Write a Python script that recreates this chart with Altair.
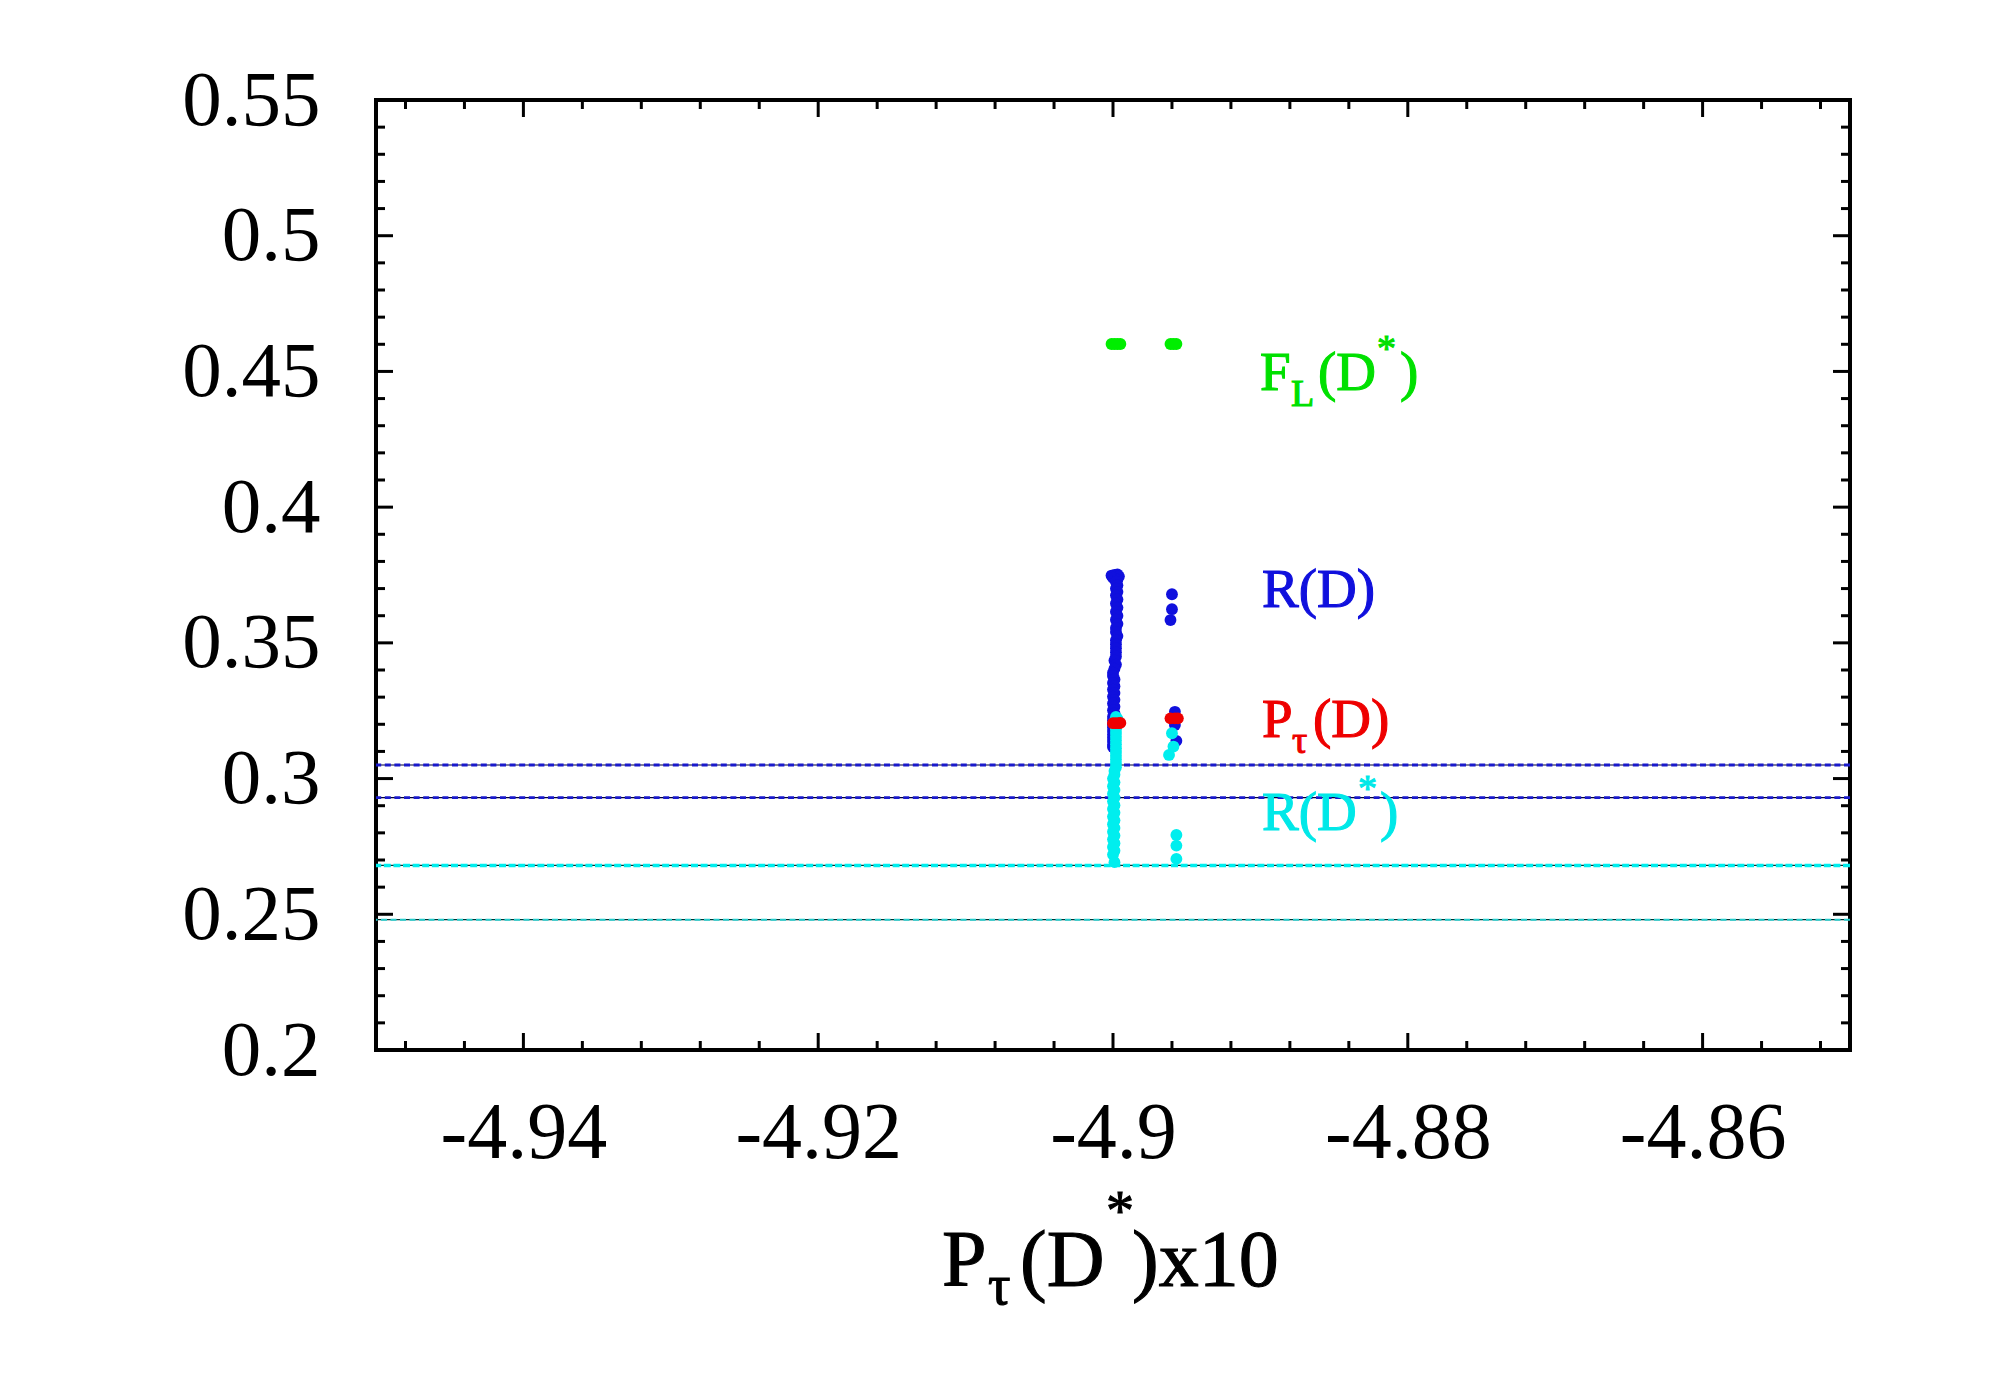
import altair as alt
import pandas as pd

# ---------------- values ----------------
x_major = [-4.94, -4.92, -4.90, -4.88, -4.86]
x_minor = [-4.948, -4.944, -4.936, -4.932, -4.928, -4.924, -4.916, -4.912,
           -4.908, -4.904, -4.896, -4.892, -4.888, -4.884, -4.876, -4.872,
           -4.868, -4.864, -4.856, -4.852]
y_major = [0.2, 0.25, 0.3, 0.35, 0.4, 0.45, 0.5, 0.55]
y_minor = [0.21, 0.22, 0.23, 0.24, 0.26, 0.27, 0.28, 0.29, 0.31, 0.32, 0.33,
           0.34, 0.36, 0.37, 0.38, 0.39, 0.41, 0.42, 0.43, 0.44, 0.46, 0.47,
           0.48, 0.49, 0.51, 0.52, 0.53, 0.54]

# horizontal reference lines
hl_blue = [0.305, 0.293]
hl_cyan = [0.268]
hl_thin = [0.248]

# R(D) (blue)
rd_x = [-4.8997, -4.8999, -4.9001, -4.8996, -4.9000, -4.8997, -4.8998, -4.8997,
        -4.8998, -4.8997, -4.8998, -4.8997, -4.8998, -4.8997, -4.8998, -4.8997,
        -4.8998, -4.8997, -4.8998, -4.8998, -4.8997, -4.8998, -4.8998, -4.8998,
        -4.8998, -4.8998, -4.8999, -4.8998, -4.8999, -4.9000, -4.9000, -4.8999,
        -4.9000, -4.8999, -4.9000, -4.8999, -4.9000, -4.8999, -4.9000, -4.8999,
        -4.9000, -4.8999, -4.9000, -4.9000, -4.9000, -4.9000, -4.9000, -4.9000,
        -4.9000, -4.9000, -4.9000, -4.9000,
        -4.8960, -4.8960, -4.8961, -4.8958, -4.8958, -4.8957]
rd_y = [0.3752, 0.3750, 0.3748, 0.3745, 0.3740, 0.3733, 0.3725, 0.3712,
        0.3700, 0.3688, 0.3675, 0.3660, 0.3645, 0.3630, 0.3615, 0.3600,
        0.3585, 0.3570, 0.3555, 0.3540, 0.3525, 0.3510, 0.3495, 0.3480,
        0.3465, 0.3450, 0.3435, 0.3420, 0.3405, 0.3390, 0.3378, 0.3365,
        0.3352, 0.3340, 0.3328, 0.3315, 0.3302, 0.3290, 0.3277, 0.3265,
        0.3252, 0.3240, 0.3228, 0.3215, 0.3200, 0.3188, 0.3175, 0.3162,
        0.3150, 0.3138, 0.3125, 0.3116,
        0.3679, 0.3624, 0.3584, 0.3246, 0.3197, 0.3139]

# R(D*) (cyan)
rds_x = [-4.8998, -4.8997, -4.8999, -4.8998, -4.8998, -4.8998, -4.8998, -4.8998,
         -4.8998, -4.8998, -4.8998, -4.8998, -4.8998, -4.8998, -4.8998, -4.8999,
         -4.8999, -4.9000, -4.8999, -4.9000, -4.8999, -4.9000, -4.8999, -4.9000,
         -4.8999, -4.9000, -4.8999, -4.9000, -4.8999, -4.9000, -4.8999, -4.9000,
         -4.8999, -4.9000, -4.8999, -4.9000, -4.8999, -4.9000, -4.8999,
         -4.8960, -4.8959, -4.8962, -4.8957, -4.8957, -4.8957]
rds_y = [0.3227, 0.3220, 0.3210, 0.3196, 0.3182, 0.3168, 0.3154, 0.3140,
         0.3126, 0.3112, 0.3098, 0.3084, 0.3070, 0.3056, 0.3042, 0.3028,
         0.3014, 0.3000, 0.2986, 0.2972, 0.2958, 0.2944, 0.2930, 0.2916,
         0.2902, 0.2888, 0.2874, 0.2860, 0.2846, 0.2832, 0.2818, 0.2804,
         0.2790, 0.2776, 0.2762, 0.2748, 0.2734, 0.2720, 0.2692,
         0.3167, 0.3118, 0.3087, 0.2792, 0.2753, 0.2704]

# P_tau(D) (red)
ptd_x = [-4.9000, -4.8998, -4.8996, -4.8995, -4.8961, -4.8958, -4.8956]
ptd_y = [0.3204, 0.3204, 0.3204, 0.3205, 0.3222, 0.3222, 0.3222]

# F_L(D*) (green)
fl_x = [-4.9001, -4.8999, -4.8997, -4.8995, -4.8961, -4.8959, -4.8957]
fl_y = [0.4601, 0.4601, 0.4601, 0.4601, 0.4601, 0.4601, 0.4601]

# text pieces: (text, x px, baseline y px, font size, colour)
label_pieces = [
    ("F", 884, 290, 55, "#00e000"), ("L", 915, 306, 38, "#00e000"),
    ("(D", 942, 290, 55, "#00e000"), ("*", 1001, 261, 38, "#00e000"),
    (")", 1024, 290, 55, "#00e000"),
    ("R(D)", 886, 507, 55, "#1010dd"),
    ("P", 886, 637, 55, "#ee0000"), ("\u03c4", 916, 653, 38, "#ee0000"),
    ("(D)", 937, 637, 55, "#ee0000"),
    ("R(D", 886, 730, 55, "#00e8e8"), ("*", 982, 701, 38, "#00e8e8"),
    (")", 1004, 730, 55, "#00e8e8"),
    # x-axis title  P_tau(D^*)x10
    ("P", 566, 1186, 80, "black"), ("\u03c4", 612, 1204, 56, "black"),
    ("(D", 644, 1186, 80, "black"), ("*", 730, 1130, 56, "black"),
    (")x10", 756, 1186, 80, "black"),
]

# ---------------- chart ----------------
W, H = 1474, 950
FONT = "Liberation Serif"
MAJ, MIN = 17, 9

xs = alt.Scale(domain=[-4.95, -4.85], nice=False, zero=False)
ys = alt.Scale(domain=[0.2, 0.55], nice=False, zero=False)
x_axis = alt.Axis(values=x_major, title=None, grid=False, ticks=False, tickSize=0,
                  domain=False, labelFont=FONT, labelFontSize=80, labelColor="black",
                  labelPadding=44, format="~g",
                  labelExpr="replace(datum.label, '\u2212', '-')")
y_axis = alt.Axis(values=y_major, title=None, grid=False, ticks=False, tickSize=0,
                  domain=False, labelFont=FONT, labelFontSize=79, labelColor="black",
                  labelPadding=56, format="~g")


def X(f):
    return alt.X(f, type="quantitative", scale=xs, axis=x_axis)


def Y(f):
    return alt.Y(f, type="quantitative", scale=ys, axis=y_axis)


layers = []

# horizontal lines
def hlines(vals, color, width, dash=None):
    kw = dict(color=color, strokeWidth=width)
    if dash:
        kw["strokeDash"] = dash
    return alt.Chart(pd.DataFrame({"y": vals})).mark_rule(**kw).encode(y=Y("y"))

layers += [
    hlines(hl_blue, "#000033", 1.2),
    hlines(hl_blue, "#1a1acc", 2.8, [6, 3.6]),
    hlines(hl_cyan, "#003333", 1.2),
    hlines(hl_cyan, "#00eeee", 3.6, [7, 2.6]),
    hlines(hl_thin, "#003333", 1.2),
    hlines(hl_thin, "#22cccc", 2.0, [6, 3.5]),
]

# scatter series
def pts(xv, yv, color):
    return alt.Chart(pd.DataFrame({"x": xv, "y": yv})).mark_point(
        shape="circle", filled=True, size=140, opacity=1, color=color,
        strokeWidth=0).encode(x=X("x"), y=Y("y"))

layers += [
    pts(rd_x, rd_y, "#1010dd"),
    pts(rds_x, rds_y, "#00eeee"),
    pts(ptd_x, ptd_y, "#ee0000"),
    pts(fl_x, fl_y, "#00ee00"),
]

# inward ticks on all four sides
def xticks(vals, length):
    d = pd.DataFrame({"v": vals})
    bottom = alt.Chart(d).mark_rule(color="black", strokeWidth=3).encode(
        x=X("v"), y=alt.value(H), y2=alt.value(H - length))
    top = alt.Chart(d).mark_rule(color="black", strokeWidth=3).encode(
        x=X("v"), y=alt.value(0), y2=alt.value(length))
    return [bottom, top]


def yticks(vals, length):
    d = pd.DataFrame({"v": vals})
    left = alt.Chart(d).mark_rule(color="black", strokeWidth=3).encode(
        y=Y("v"), x=alt.value(0), x2=alt.value(length))
    right = alt.Chart(d).mark_rule(color="black", strokeWidth=3).encode(
        y=Y("v"), x=alt.value(W), x2=alt.value(W - length))
    return [left, right]

layers += xticks(x_major, MAJ) + xticks(x_minor, MIN)
layers += yticks(y_major, MAJ) + yticks(y_minor, MIN)

# text pieces
for t, px, py, fs, col in label_pieces:
    layers.append(
        alt.Chart(pd.DataFrame({"t": [t]})).mark_text(
            align="left", baseline="alphabetic", font=FONT, fontSize=fs, color=col,
            stroke=col, strokeWidth=1.1
        ).encode(text="t:N", x=alt.value(px), y=alt.value(py))
    )

chart = alt.layer(*layers).properties(
    width=W, height=H,
    autosize=alt.AutoSizeParams(type="none"),
    padding={"left": 368, "top": 92, "right": 130, "bottom": 300},
    background="white",
).configure_view(stroke="black", strokeWidth=4)

chart.save("out.html", embed_options={"renderer": "svg", "actions": False})
